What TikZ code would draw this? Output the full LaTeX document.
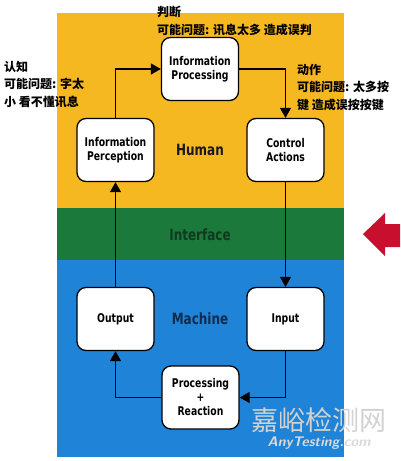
\documentclass[tikz,border=0pt]{standalone}
\usepackage{fontspec}
\usetikzlibrary{arrows.meta}
\newfontfamily\cjk{Noto Sans CJK SC}
\newfontfamily\boxfont{DejaVu Sans Condensed}[FakeStretch=0.86]
\definecolor{humanyellow}{HTML}{F5B820}
\definecolor{ifacegreen}{HTML}{1B7A3B}
\definecolor{machineblue}{HTML}{1F83D8}
\definecolor{ifacetext}{HTML}{0F3A1E}
\definecolor{machinetext}{HTML}{0E2C4E}
\definecolor{hintred}{HTML}{C8102E}

\begin{document}
\begin{tikzpicture}[
  x=1pt, y=-1pt,
  block/.style={draw, fill=white, rounded corners=9pt, line width=1.3pt,
    minimum width=77pt, minimum height=63pt, align=center,
    font=\boxfont\bfseries\fontsize{12}{14}\selectfont},
  zonelabel/.style={font=\boxfont\bfseries\fontsize{15.5}{16}\selectfont},
  note/.style={anchor=north west, align=left, inner sep=0pt,
    font=\cjk\bfseries\fontsize{12}{17.5}\selectfont},
  flow/.style={line width=1.1pt, -{Triangle[length=10pt,width=11pt]}},
]
\def\zl{57}
\def\zr{344}

\clip (0,0) rectangle (400,461);

% ── zones ──────────────────
\fill[humanyellow] (\zl,13) rectangle (\zr,208);
\fill[ifacegreen] (\zl,208) rectangle (\zr,260);
\fill[machineblue] (\zl,260) rectangle (\zr,457);

\node[zonelabel, text=black!90] (human) at (200,150) {Human};
\node[zonelabel, text=ifacetext] (iface) at (200,235) {Interface};
\node[zonelabel, text=machinetext] (machine) at (200,319) {Machine};

% ── blocks ─────────────────
\node[block] (proc) at (200,69) {Information\\Processing};
\node[block] (perc) at (115.5,150) {Information\\Perception};
\node[block] (ctrl) at (285.5,150) {Control\\Actions};
\node[block] (output) at (115.5,319) {Output};
\node[block] (input) at (285.5,319) {Input};
\node[block] (react) at (200.5,397.5) {Processing\\+\\Reaction};

% ── loop ───────────────────
\draw[flow] (perc.north) |- (proc.west);
\draw[flow] (proc.east) -| (ctrl.north);
\draw[flow] (ctrl) -- (input);
\draw[flow] (input.south) |- (react.east);
\draw[flow] (react.west) -| (output.south);
\draw[flow] (output) -- (perc);

% ── notes ──────────────────
\node[note] (noteperc) at (4,61) {认知\\可能问题: 字太\\小 看不懂讯息};
\node[note] (noteproc) at (157,6) {判断\\可能问题: 讯息太多 造成误判};
\node[note] (notectrl) at (297,64) {动作\\可能问题: 太多按\\键 造成误按按键};

% ── pointer to interface ───
\fill[hintred] (363,234) -- (385,213) -- (385,224) -- (402,224)
  -- (402,247) -- (385,247) -- (385,256) -- cycle;

% ── watermark ──────────────
\node[font=\cjk\fontsize{27}{27}\selectfont, text=gray!35] (markcn)
  at (319,420) {嘉峪检测网};
\node[font=\sffamily\itshape\bfseries\fontsize{14}{14}\selectfont, text=gray!30]
  (markurl) at (319,443) {AnyTesting.com};
\end{tikzpicture}
\end{document}
